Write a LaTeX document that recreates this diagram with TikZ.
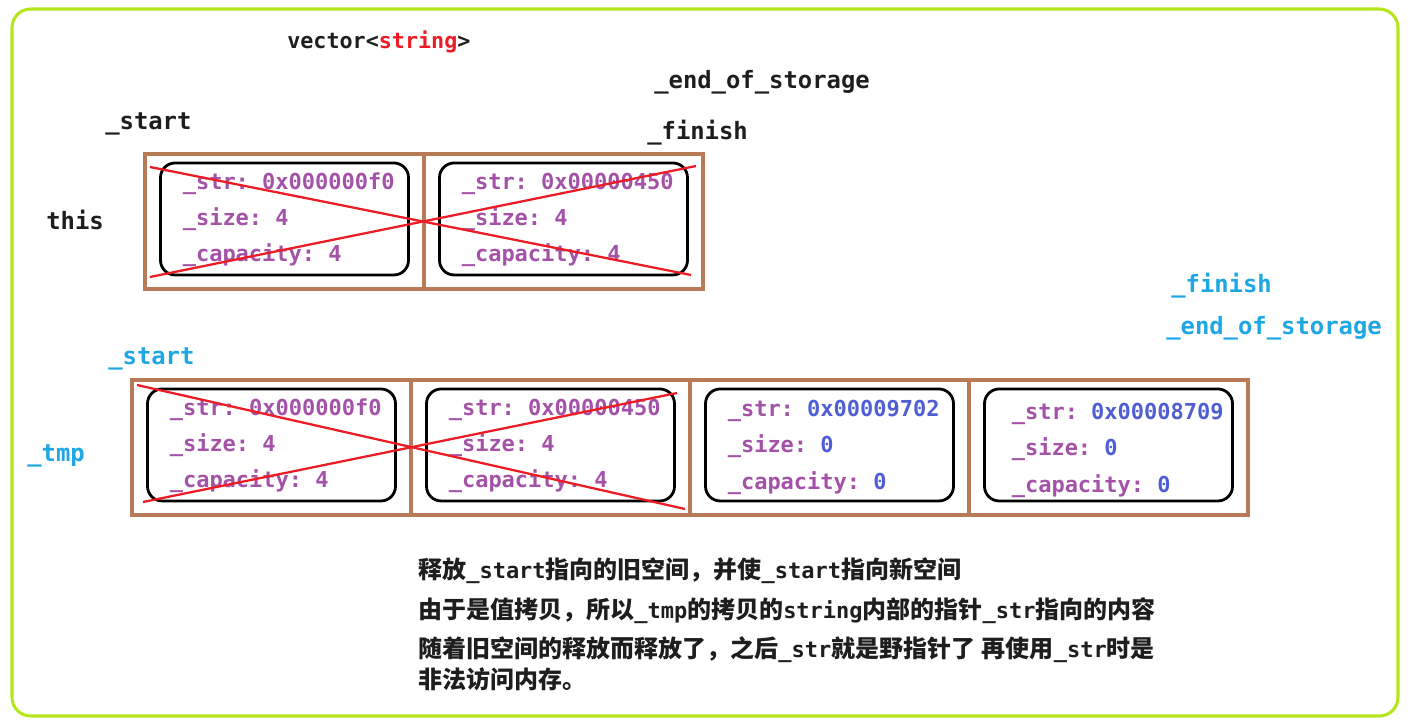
\documentclass[tikz,border=0pt]{standalone}
\usepackage{fontspec}
\setmonofont{DejaVu Sans Mono}
\newfontfamily\cjk{Noto Sans CJK SC}
\usetikzlibrary{positioning, calc}
\definecolor{Cornice}{HTML}{B5E61D}
\definecolor{Mattone}{HTML}{B97A57}
\definecolor{Viola}{HTML}{A452A8}
\definecolor{Valore}{HTML}{4F5FD3}
\definecolor{Azzurro}{HTML}{1EA7E4}
\definecolor{Rosso}{HTML}{ED1C24}
\definecolor{Scuro}{HTML}{1E1E1E}
\newcommand{\zh}[1]{{\cjk\fontsize{18}{20}\selectfont#1}}
\tikzset{
    cornice/.style={draw=Cornice, line width=2.3pt, rounded corners=14pt},
    titolo/.style={font=\ttfamily\bfseries\fontsize{16.3}{19}\selectfont, text=Scuro, anchor=west, inner sep=0, yshift=-1pt},
    etichetta/.style={font=\ttfamily\bfseries\fontsize{17.9}{20}\selectfont, text=Scuro, anchor=west, inner sep=0, yshift=-2pt},
    puntatore/.style={etichetta, text=Azzurro},
    cella/.style={draw=Mattone, line width=2.7pt, minimum width=209.25pt, minimum height=101.25pt, inner sep=0, outer sep=0},
    scatola/.style={draw=black, line width=2.1pt, rounded corners=11pt, minimum width=186pt, minimum height=84pt, inner sep=0, outer sep=0},
    campo/.style={font=\ttfamily\bfseries\fontsize{16.5}{19}\selectfont, text=Viola, anchor=west, inner sep=0, yshift=-2pt},
    croce/.style={draw=Rosso, line width=1.7pt},
    nota/.style={font=\ttfamily\bfseries\fontsize{16.5}{20}\selectfont, text=Scuro, anchor=west, inner sep=0, yshift=-1.5pt},
}
\begin{document}
\begin{tikzpicture}[x=0.75pt, y=-0.75pt]
    % Cornice
    \useasboundingbox (0,0) rectangle (1411,725);
    \draw[cornice] (12,9) rectangle (1398,716);

    % Vettore originale (this)
    \node[titolo] (tipo) at (287,41) {vector<\textcolor{Rosso}{string}>};
    \node[etichetta] (endA) at (654,80) {\_end\_of\_storage};
    \node[etichetta] (startA) at (105,121) {\_start};
    \node[etichetta] (finishA) at (647,130) {\_finish};
    \node[etichetta] (this) at (46,217) {this};
    \node[cella, anchor=north west] (c1) at (145,154) {};
    \node[cella, right=0pt of c1] (c2) {};

    % Nuovo spazio (_tmp)
    \node[puntatore] (finishB) at (1171,283) {\_finish};
    \node[puntatore] (endB) at (1166,326) {\_end\_of\_storage};
    \node[puntatore] (startB) at (108,356) {\_start};
    \node[puntatore] (tmp) at (27,453) {\_tmp};
    \node[cella, anchor=north west] (t1) at (132,380) {};
    \node[cella, right=0pt of t1] (t2) {};
    \node[cella, right=0pt of t2] (t3) {};
    \node[cella, right=0pt of t3] (t4) {};

    % Oggetti string
    \foreach \c in {c1,c2,t1,t2,t3,t4}
        \node[scatola] (s\c) at ([yshift=1.9pt]\c.center) {};
    \foreach \b/\p/\n in {c1/0x000000f0/4, c2/0x00000450/4, t1/0x000000f0/4, t2/0x00000450/4} {
        \node[campo] (\b-str) at ([shift={(22,18)}]s\b.north west) {\_str: \p};
        \node[campo] (\b-size) at ([shift={(22,54)}]s\b.north west) {\_size: \n};
        \node[campo] (\b-cap) at ([shift={(22,90)}]s\b.north west) {\_capacity: \n};
    }
    \foreach \b/\p/\dx/\dy in {t3/0x00009702/22/19, t4/0x00008709/27/22} {
        \node[campo] (\b-str) at ([shift={(\dx,\dy)}]s\b.north west) {\_str: \textcolor{Valore}{\p}};
        \node[campo] (\b-size) at ([shift={(\dx,\dy+36)}]s\b.north west) {\_size: \textcolor{Valore}{0}};
        \node[campo] (\b-cap) at ([shift={(\dx,\dy+73)}]s\b.north west) {\_capacity: \textcolor{Valore}{0}};
    }

    % Spazio liberato (croci)
    \draw[croce] ([shift={(5,13)}]c1.north west) -- ([shift={(-12,-14)}]c2.south east);
    \draw[croce] ([shift={(5,-12)}]c1.south west) -- ([shift={(-7,12)}]c2.north east);
    \draw[croce] ([shift={(5,5)}]t1.north west) -- ([shift={(-5,-6)}]t2.south east);
    \draw[croce] ([shift={(11,-13)}]t1.south west) -- ([shift={(-13,13)}]t2.north east);

    % Spiegazione
    \node[nota] (n1) at (418,569) {\zh{释放}\_start\zh{指向的旧空间，并使}\_start\zh{指向新空间}};
    \node[nota] (n2) at (418,609) {\zh{由于是值拷贝，所以}\_tmp\zh{的拷贝的}string\zh{内部的指针}\_str\zh{指向的内容}};
    \node[nota] (n3) at (418,648) {\zh{随着旧空间的释放而释放了，之后}\_str\zh{就是野指针了}\hspace{5pt}\zh{再使用}\_str\zh{时是}};
    \node[nota] (n4) at (418,677) {\zh{非法访问内存。}};
\end{tikzpicture}
\end{document}
